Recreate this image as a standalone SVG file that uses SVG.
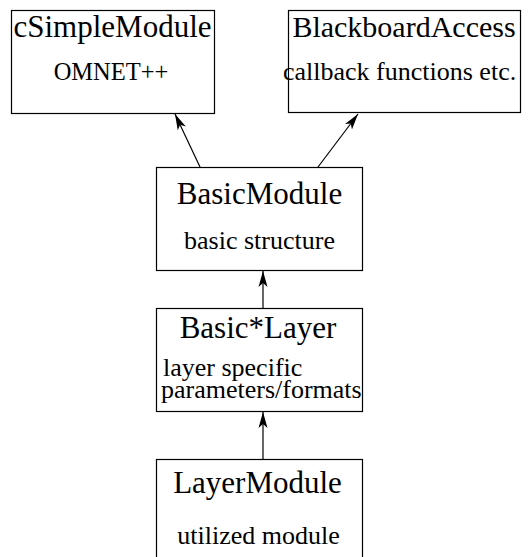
<svg xmlns="http://www.w3.org/2000/svg" width="532" height="557" viewBox="0 0 532 557">
  <style>
    .box { fill: #ffffff; stroke: #000000; stroke-width: 1.2; }
    .title { font-family: "Liberation Serif", "Times New Roman", serif; font-size: 31px; fill: #000000; }
    .sub { font-family: "Liberation Serif", "Times New Roman", serif; font-size: 26px; fill: #000000; }
    .edge { stroke: #000000; stroke-width: 1.2; fill: none; marker-end: url(#arrow); }
  </style>
  <defs>
    <marker id="arrow" viewBox="0 0 16 10" refX="16" refY="5" markerWidth="16" markerHeight="10" markerUnits="userSpaceOnUse" orient="auto">
      <path d="M0,0.5 L16,5 L0,9.5 L4,5 Z" fill="#000000"/>
    </marker>
  </defs>
  <rect width="532" height="557" fill="#ffffff"/>

  <g id="connectors">
    <line class="edge" x1="200" y1="167" x2="175" y2="114"/>
    <line class="edge" x1="318" y1="167" x2="358" y2="114"/>
    <line class="edge" x1="263" y1="308" x2="263" y2="271"/>
    <line class="edge" x1="263" y1="459" x2="263" y2="412"/>
  </g>

  <g id="cSimpleModule">
    <rect class="box" x="11.5" y="10.5" width="203" height="103"/>
    <text class="title" x="112.5" y="37" text-anchor="middle">cSimpleModule</text>
    <text class="sub" x="111" y="80" text-anchor="middle" style="font-size:24.5px">OMNET++</text>
  </g>

  <g id="BlackboardAccess">
    <rect class="box" x="288.5" y="10.5" width="232" height="102"/>
    <text class="title" x="404" y="37" text-anchor="middle" style="font-size:30px">BlackboardAccess</text>
    <text class="sub" x="283" y="80">callback functions etc.</text>
  </g>

  <g id="BasicModule">
    <rect class="box" x="156.5" y="167.5" width="206" height="103"/>
    <text class="title" x="259.5" y="204" text-anchor="middle">BasicModule</text>
    <text class="sub" x="259.5" y="249" text-anchor="middle">basic structure</text>
  </g>

  <g id="BasicLayer">
    <rect class="box" x="156.5" y="308.5" width="206" height="103"/>
    <text class="title" x="258" y="338" text-anchor="middle">Basic*Layer</text>
    <text class="sub" x="163" y="376">layer specific</text>
    <text class="sub" x="161" y="398">parameters/formats</text>
  </g>

  <g id="LayerModule">
    <rect class="box" x="156.5" y="459.5" width="206" height="110"/>
    <text class="title" x="257.5" y="493" text-anchor="middle">LayerModule</text>
    <text class="sub" x="258.5" y="544" text-anchor="middle">utilized module</text>
  </g>
</svg>
